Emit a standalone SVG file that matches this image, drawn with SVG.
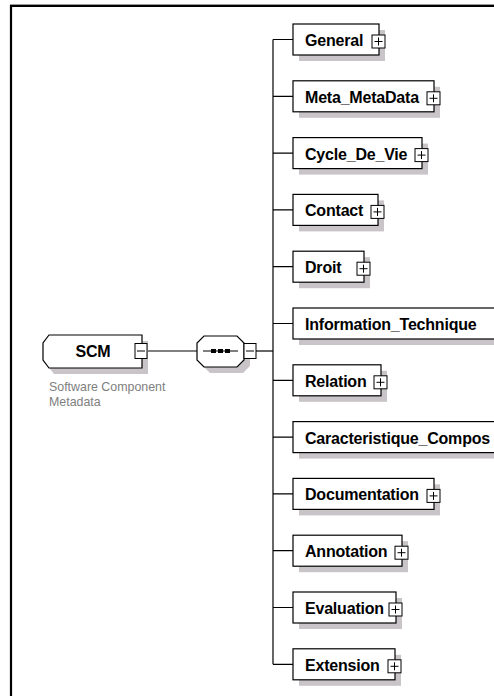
<svg xmlns="http://www.w3.org/2000/svg" width="494" height="696" viewBox="0 0 494 696">
<style>
.bg{fill:#ffffff}
.frame{fill:none;stroke:#000;stroke-width:2.2}
.frame2{fill:none;stroke:#9a9a9a;stroke-width:1}
.box{fill:#ffffff;stroke:#000;stroke-width:1.2}
.shadow{fill:#c8c4c8;stroke:none}
.lbl{font-family:"Liberation Sans",Arial,sans-serif;font-weight:bold;font-size:16px;letter-spacing:-0.2px;fill:#000}
.desc{font-family:"Liberation Sans",Arial,sans-serif;font-size:12.4px;fill:#808080}
.tog{fill:#ffffff;stroke:#000;stroke-width:1}
.sign{stroke:#000;stroke-width:1;fill:none}
.conn{stroke:#000;stroke-width:1.2;fill:none}
</style>
<defs>
<g id="plus">
<rect class="tog" x="0" y="0" width="13" height="13"/>
<path class="sign" d="M2.5,6.5H10.5M6.5,2.5V10.5"/>
</g>
<g id="minus">
<rect class="tog" x="0" y="0" width="12" height="15"/>
<path class="sign" d="M2,7.5H10"/>
</g>
</defs>
<rect class="bg" x="0" y="0" width="494" height="696"/>
<path class="frame2" d="M10,4.5H494"/>
<path class="frame" d="M11,696V6H494"/>

<g id="connectors">
<path class="conn" d="M147,351H197"/>
<path class="conn" d="M256,351H273"/>
<path class="conn" d="M273,39.5V664.3"/>
<path class="conn" d="M273,39.5H293M273,96.3H293M273,153.1H293M273,209.9H293M273,266.7H293M273,323.5H293M273,380.3H293M273,437.1H293M273,493.9H293M273,550.7H293M273,607.5H293M273,664.3H293"/>
</g>

<g id="node-SCM">
<path class="shadow" d="M54,341H148V374H54L48,366V347Z"/>
<path class="box" d="M49,335H142V368H49L43,360V343Z"/>
<text class="lbl" x="93" y="356.5" text-anchor="middle">SCM</text>
<use href="#minus" x="135" y="343.5"/>
<text class="desc" x="49" y="391">Software Component</text>
<text class="desc" x="49" y="405.5">Metadata</text>
</g>

<g id="node-sequence">
<path class="shadow" d="M210,342H243L250,349V366L243,373H210L203,366V349Z"/>
<path class="box" d="M204,336H237L244,343V360L237,367H204L197,360V343Z"/>
<path class="conn" d="M203,351H238"/>
<rect x="211" y="349" width="5" height="4" fill="#000"/>
<rect x="218" y="349" width="5" height="4" fill="#000"/>
<rect x="225" y="349" width="5" height="4" fill="#000"/>
<use href="#minus" x="244" y="343.5"/>
</g>

<g id="node-General" transform="translate(293,24)">
<rect class="shadow" x="6" y="6" width="86" height="31"/>
<rect class="box" x="0" y="0" width="86" height="31"/>
<text class="lbl" x="12" y="22">General</text>
<use href="#plus" x="79" y="11"/>
</g>
<g id="node-Meta_MetaData" transform="translate(293,80.8)">
<rect class="shadow" x="6" y="6" width="141" height="31"/>
<rect class="box" x="0" y="0" width="141" height="31"/>
<text class="lbl" x="12" y="22">Meta_MetaData</text>
<use href="#plus" x="134" y="11"/>
</g>
<g id="node-Cycle_De_Vie" transform="translate(293,137.6)">
<rect class="shadow" x="6" y="6" width="129" height="31"/>
<rect class="box" x="0" y="0" width="129" height="31"/>
<text class="lbl" x="12" y="22">Cycle_De_Vie</text>
<use href="#plus" x="122" y="11"/>
</g>
<g id="node-Contact" transform="translate(293,194.4)">
<rect class="shadow" x="6" y="6" width="85" height="31"/>
<rect class="box" x="0" y="0" width="85" height="31"/>
<text class="lbl" x="12" y="22">Contact</text>
<use href="#plus" x="78" y="11"/>
</g>
<g id="node-Droit" transform="translate(293,251.2)">
<rect class="shadow" x="6" y="6" width="71" height="31"/>
<rect class="box" x="0" y="0" width="71" height="31"/>
<text class="lbl" x="12" y="22">Droit</text>
<use href="#plus" x="64" y="11"/>
</g>
<g id="node-Information_Technique" transform="translate(293,308)">
<rect class="shadow" x="6" y="6" width="240" height="31"/>
<rect class="box" x="0" y="0" width="240" height="31"/>
<text class="lbl" x="12" y="22">Information_Technique</text>
</g>
<g id="node-Relation" transform="translate(293,364.8)">
<rect class="shadow" x="6" y="6" width="88" height="31"/>
<rect class="box" x="0" y="0" width="88" height="31"/>
<text class="lbl" x="12" y="22">Relation</text>
<use href="#plus" x="81" y="11"/>
</g>
<g id="node-Caracteristique_Composant" transform="translate(293,421.6)">
<rect class="shadow" x="6" y="6" width="240" height="31"/>
<rect class="box" x="0" y="0" width="240" height="31"/>
<text class="lbl" x="12" y="22">Caracteristique_Compos</text>
</g>
<g id="node-Documentation" transform="translate(293,478.4)">
<rect class="shadow" x="6" y="6" width="141" height="31"/>
<rect class="box" x="0" y="0" width="141" height="31"/>
<text class="lbl" x="12" y="22">Documentation</text>
<use href="#plus" x="134" y="11"/>
</g>
<g id="node-Annotation" transform="translate(293,535.2)">
<rect class="shadow" x="6" y="6" width="109" height="31"/>
<rect class="box" x="0" y="0" width="109" height="31"/>
<text class="lbl" x="12" y="22">Annotation</text>
<use href="#plus" x="102" y="11"/>
</g>
<g id="node-Evaluation" transform="translate(293,592)">
<rect class="shadow" x="6" y="6" width="103" height="31"/>
<rect class="box" x="0" y="0" width="103" height="31"/>
<text class="lbl" x="12" y="22">Evaluation</text>
<use href="#plus" x="96" y="11"/>
</g>
<g id="node-Extension" transform="translate(293,648.8)">
<rect class="shadow" x="6" y="6" width="102" height="31"/>
<rect class="box" x="0" y="0" width="102" height="31"/>
<text class="lbl" x="12" y="22">Extension</text>
<use href="#plus" x="95" y="11"/>
</g>
</svg>
